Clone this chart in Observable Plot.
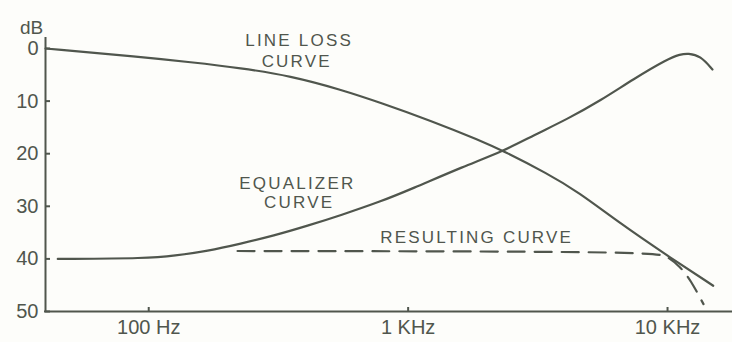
<!DOCTYPE html>
<html><head><meta charset="utf-8">
<script src="https://cdn.jsdelivr.net/npm/d3@7"></script>
<script src="https://cdn.jsdelivr.net/npm/@observablehq/plot@0.6"></script>
<style>
html,body{margin:0;padding:0;background:#fdfdfa;}
svg text{font-family:"Liberation Sans",Arial,sans-serif;}
</style></head><body><div id="chart"></div>
<script>
// Line loss curve (frequency in Hz, attenuation in dB)
const lossFreq = [40, 93, 145, 226, 352, 550, 783, 1220, 1900, 2330, 3450, 4500, 6590, 9650, 15000];
const lossDb   = [0, 1.6, 2.6, 3.7, 5.2, 7.8, 10.3, 13.7, 17.5, 19.5, 23.8, 27.2, 33.3, 38.9, 45.1];
// Equalizer curve
const eqFreq = [44.6, 100, 125, 169, 226, 303, 410, 550, 783, 1020, 1640, 2330, 3045, 4117, 5518, 7396, 10000, 11200, 12000, 13400, 14900];
const eqDb   = [40, 39.9, 39.4, 38.5, 37.1, 35.6, 33.7, 31.7, 29.1, 26.8, 22.4, 19.5, 16.5, 13.4, 9.9, 5.8, 2.0, 1.1, 0.9, 1.4, 4.0];
// Resulting curve (dashed)
const resFreq = [220, 8830, 10000, 11200, 12260, 13760];
const resDb   = [38.5, 38.6, 39.5, 41.5, 44, 48.6];
// Axis ticks
const yTicks = [0, 10, 20, 30, 40, 50];
const yTickLabels = ["0", "10", "20", "30", "40", "50"];
const xTicks = [100, 1000, 10000];
const xTickLabels = ["100 Hz", "1 KHz", "10 KHz"];
// Curve annotations
const labelText = ["LINE LOSS", "CURVE", "EQUALIZER", "CURVE", "RESULTING CURVE"];
const labelFreq = [380, 372, 374, 380, 1837];
const labelDb   = [-1.5, 2.5, 25.6, 29.2, 35.9];

const ink = "#50564d";
const toRows = (fs, ds) => fs.map((f, i) => ({f, db: ds[i]}));
const labels = labelText.map((t, i) => ({t, f: labelFreq[i], db: labelDb[i]}));

const chart = Plot.plot({
  width: 732, height: 342,
  marginLeft: 45, marginRight: 0, marginTop: 48, marginBottom: 31,
  style: {background: "#fdfdfa", color: ink, fontFamily: "Liberation Sans, Arial, sans-serif"},
  x: {type: "log", domain: [40, 17800]},
  y: {domain: [0, 50], reverse: true},
  marks: [
    Plot.ruleX([40], {stroke: ink, strokeWidth: 2, insetTop: -11}),
    Plot.ruleY([50], {stroke: ink, strokeWidth: 2, insetLeft: -1}),
    Plot.axisY(yTicks, {tickSize: -5, tickPadding: 12, strokeWidth: 2, fontSize: 20, label: null,
      tickFormat: d => yTickLabels[yTicks.indexOf(d)]}),
    Plot.axisX(xTicks, {tickSize: -4, tickPadding: 12, strokeWidth: 2, fontSize: 20, label: null,
      tickFormat: d => xTickLabels[xTicks.indexOf(d)]}),
    Plot.text(["dB"], {frameAnchor: "top-left", dx: -14, dy: -28, fontSize: 19, fill: ink, textAnchor: "middle"}),
    Plot.line(toRows(lossFreq, lossDb), {x: "f", y: "db", stroke: ink, strokeWidth: 2.2, curve: "basis"}),
    Plot.line(toRows(eqFreq, eqDb), {x: "f", y: "db", stroke: ink, strokeWidth: 2.2, curve: "basis"}),
    Plot.line(toRows(resFreq, resDb), {x: "f", y: "db", stroke: ink, strokeWidth: 2.2, curve: "basis", strokeDasharray: "17,10"}),
    Plot.text(labels, {x: "f", y: "db", text: "t", fontSize: 17, fill: ink, textAnchor: "middle"})
  ]
});
document.getElementById("chart").appendChild(chart);
d3.select(chart).selectAll('g[aria-label="text"] text').filter(function(){ return this.textContent !== "dB"; }).attr("letter-spacing", "2.2px");
</script></body></html>
